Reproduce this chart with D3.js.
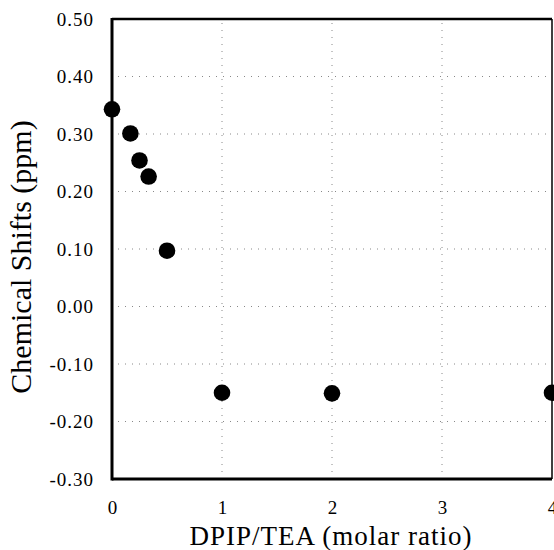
<!DOCTYPE html>
<html>
<head>
<meta charset="utf-8">
<script src="https://cdn.jsdelivr.net/npm/d3@7"></script>
<style>
  body { margin: 0; background: #fff; }
  text { font-family: "Liberation Serif", "Times New Roman", serif; fill: #000; }
</style>
</head>
<body>
<svg id="chart" width="554" height="550"></svg>
<script>
// Data
var ratio = [0, 0.167, 0.25, 0.333, 0.5, 1, 2, 4];
var shift = [0.343, 0.301, 0.254, 0.226, 0.097, -0.150, -0.151, -0.150];
var yTicks = [-0.3, -0.2, -0.1, 0, 0.1, 0.2, 0.3, 0.4, 0.5];
var xTicks = [0, 1, 2, 3, 4];

var svg = d3.select("#chart");
var pLeft = 112, pRight = 552, pTop = 19, pBottom = 479;
var serif = "'Liberation Serif', 'Times New Roman', serif";

var x = d3.scaleLinear().domain([0, 4]).range([pLeft, pRight]);
var y = d3.scaleLinear().domain([-0.3, 0.5]).range([pBottom, pTop]);

// Grid lines
svg.selectAll(".hgrid")
  .data(yTicks.filter(function(d) { return d > -0.3 && d < 0.5; }))
  .enter().append("line")
  .attr("x1", pLeft + 6).attr("x2", pRight)
  .attr("y1", function(d) { return y(d); })
  .attr("y2", function(d) { return y(d); })
  .attr("stroke", "#888").attr("stroke-width", 1)
  .attr("stroke-dasharray", "1,6");

svg.selectAll(".vgrid")
  .data([1, 2, 3])
  .enter().append("line")
  .attr("x1", function(d) { return x(d); })
  .attr("x2", function(d) { return x(d); })
  .attr("y1", pTop + 4).attr("y2", pBottom)
  .attr("stroke", "#888").attr("stroke-width", 1)
  .attr("stroke-dasharray", "1,6");

// Frame
svg.append("line").attr("x1", pLeft).attr("x2", pRight).attr("y1", pTop).attr("y2", pTop)
  .attr("stroke", "#000").attr("stroke-width", 2.5);
svg.append("line").attr("x1", pRight).attr("x2", pRight).attr("y1", pTop).attr("y2", pBottom)
  .attr("stroke", "#000").attr("stroke-width", 1.5);
svg.append("line").attr("x1", pLeft).attr("x2", pLeft).attr("y1", pTop - 1).attr("y2", pBottom + 1.5)
  .attr("stroke", "#000").attr("stroke-width", 3);
svg.append("line").attr("x1", pLeft).attr("x2", pRight).attr("y1", pBottom).attr("y2", pBottom)
  .attr("stroke", "#000").attr("stroke-width", 3);

// Axes (labels only), plain hyphen for negatives as in the source
var fmt2 = function(d) { return d3.format(".2f")(d).replace("\u2212", "-"); };

var yAxis = svg.append("g")
  .attr("transform", "translate(" + (pLeft - 15) + ",0)")
  .call(d3.axisLeft(y).tickValues(yTicks).tickSize(0).tickFormat(fmt2));
yAxis.attr("font-family", serif).attr("font-size", 19);
yAxis.select(".domain").remove();
yAxis.selectAll("text").attr("letter-spacing", "1px").attr("fill", "#000");

var xAxis = svg.append("g")
  .attr("transform", "translate(0," + (pBottom + 18) + ")")
  .call(d3.axisBottom(x).tickValues(xTicks).tickSize(0).tickFormat(d3.format("d")));
xAxis.attr("font-family", serif).attr("font-size", 19);
xAxis.select(".domain").remove();
xAxis.selectAll("text").attr("fill", "#000");

// Points
svg.selectAll(".pt")
  .data(ratio)
  .enter().append("circle")
  .attr("cx", function(d) { return x(d); })
  .attr("cy", function(d, i) { return y(shift[i]); })
  .attr("r", 8.3)
  .attr("fill", "#000");

// Titles
svg.append("text")
  .attr("x", 331).attr("y", 545)
  .attr("text-anchor", "middle")
  .attr("letter-spacing", "1px")
  .style("font-size", "27px")
  .text("DPIP/TEA (molar ratio)");

svg.append("text")
  .attr("transform", "translate(31,257) rotate(-90)")
  .attr("text-anchor", "middle")
  .style("font-size", "30px")
  .text("Chemical Shifts (ppm)");
</script>
</body>
</html>
